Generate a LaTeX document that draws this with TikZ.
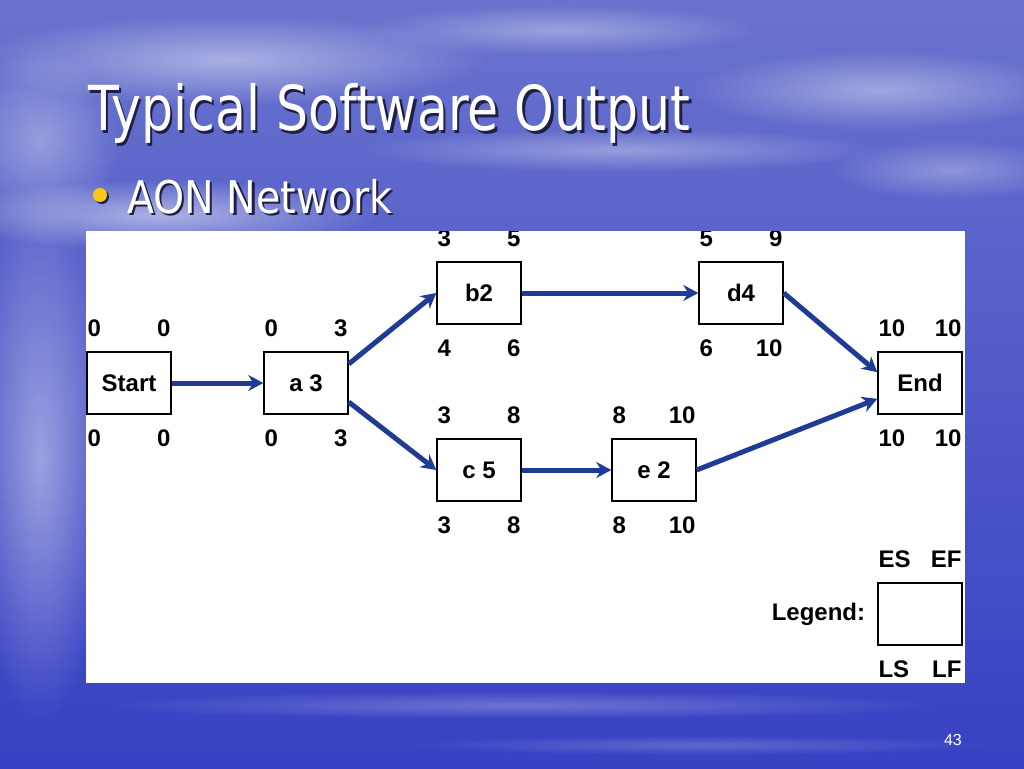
\documentclass[tikz,border=0pt]{standalone}
\usepackage{fontspec}
\setmainfont{Liberation Sans}
\newfontfamily\slidefont{DejaVu Sans}
\usepackage{graphicx}
\usetikzlibrary{positioning, calc, fadings, arrows.meta}

\definecolor{skytop}{RGB}{105,115,205}
\definecolor{skymid}{RGB}{80,90,200}
\definecolor{skybot}{RGB}{55,65,195}
\definecolor{arrowblue}{RGB}{30,60,150}
\definecolor{bulletyellow}{RGB}{250,200,20}
\definecolor{textshadow}{RGB}{30,30,70}

\tikzfading[name=cloudfade, inner color=transparent!0, outer color=transparent!100]

\tikzset{
  task/.style={draw=black, line width=1.4pt, fill=white, minimum width=84pt, minimum height=62pt,
    inner sep=0pt, font=\fontsize{24}{24}\selectfont\bfseries},
  num/.style={font=\fontsize{24}{24}\selectfont\bfseries, inner sep=0pt},
  link/.style={draw=arrowblue, line width=5pt, -{Stealth[length=15pt,width=16pt]}},
  cloud/.style={fill=white, path fading=cloudfade},
}

% white text with a dark drop shadow
\newcommand{\shadowed}[2]{%
  \makebox[0pt][l]{\hspace{#1}\raisebox{-#1}{\color{textshadow}#2}}#2}

% ES EF above a box, LS LF below it
\newcommand{\dates}[5]{%
  \node[num, anchor=west] at ($(#1.north west)+(1,-23)$) {#2};
  \node[num, anchor=east] at ($(#1.north east)+(-1,-23)$) {#3};
  \node[num, anchor=west] at ($(#1.south west)+(1,24)$) {#4};
  \node[num, anchor=east] at ($(#1.south east)+(-1,24)$) {#5};
}

\begin{document}
\begin{tikzpicture}[x=1pt, y=-1pt]
  % Background
  \useasboundingbox (0,0) rectangle (1024,768);
  \shade[top color=skytop, bottom color=skybot, middle color=skymid] (0,0) rectangle (1024,768);
  \fill[cloud, opacity=0.45] (230,60) ellipse (260 and 45);
  \fill[cloud, opacity=0.35] (560,30) ellipse (200 and 25);
  \fill[cloud, opacity=0.35] (620,150) ellipse (260 and 22);
  \fill[cloud, opacity=0.40] (880,90) ellipse (190 and 40);
  \fill[cloud, opacity=0.30] (950,170) ellipse (120 and 30);
  \fill[cloud, opacity=0.50] (160,215) ellipse (220 and 35);
  \fill[cloud, opacity=0.35] (40,140) ellipse (80 and 90);
  \fill[cloud, opacity=0.45] (40,460) ellipse (70 and 260);
  \fill[cloud, opacity=0.25] (520,705) ellipse (420 and 14);
  \fill[cloud, opacity=0.20] (700,745) ellipse (300 and 10);

  % Title and bullet
  \node[anchor=base west, white, font=\slidefont\fontsize{62}{62}\selectfont, inner sep=0pt]
    (title) at (88,130) {\scalebox{0.815}[1]{\shadowed{3pt}{Typical Software Output}}};
  \fill[textshadow] (102,197) circle (7);
  \fill[bulletyellow] (100,195) circle (7);
  \node[anchor=base west, white, font=\slidefont\fontsize{45}{45}\selectfont, inner sep=0pt]
    (sub) at (127,213) {\scalebox{0.88}[1]{\shadowed{2.5pt}{AON Network}}};

  % Network panel
  \fill[white] (86,231) rectangle (965,683);
  \begin{scope}
    \clip (86,231) rectangle (965,683);

    \node[task] (start) at (129,383) {Start};
    \node[task] (a)     at (306,383) {a 3};
    \node[task] (b)     at (479,293) {b2};
    \node[task] (c)     at (479,470) {c 5};
    \node[task] (d)     at (741,293) {d4};
    \node[task] (e)     at (654,470) {e 2};
    \node[task] (end)   at (920,383) {End};
    \node[task] (legend) at (920,614) {};

    \dates{start}{0}{0}{0}{0}
    \dates{a}{0}{3}{0}{3}
    \dates{b}{3}{5}{4}{6}
    \dates{c}{3}{8}{3}{8}
    \dates{d}{5}{9}{6}{10}
    \dates{e}{8}{10}{8}{10}
    \dates{end}{10}{10}{10}{10}
    \dates{legend}{ES}{EF}{LS}{LF}
    \node[num, anchor=east] (legendlabel) at ($(legend.west)+(-12,0)$) {Legend:};

    % Connectors
    \draw[link] (start.east) -- (a.west);
    \draw[link] ($(a.north east)!0.2!(a.south east)$) -- (b.west);
    \draw[link] ($(a.north east)!0.8!(a.south east)$) -- (c.west);
    \draw[link] (b.east) -- (d.west);
    \draw[link] (c.east) -- (e.west);
    \draw[link] (d.east) -- ($(end.north west)!0.33!(end.south west)$);
    \draw[link] (e.east) -- ($(end.north west)!0.75!(end.south west)$);
  \end{scope}

  % Page number
  \node[anchor=base east, white, font=\fontsize{16}{16}\selectfont, inner sep=0pt] (page) at (962,745) {43};
\end{tikzpicture}
\end{document}
